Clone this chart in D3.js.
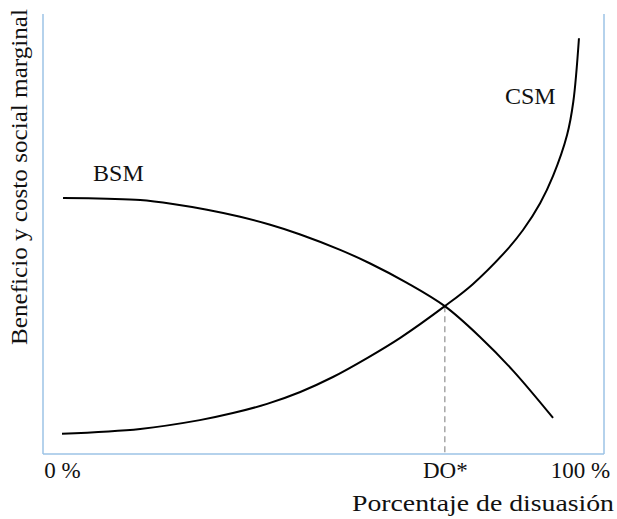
<!DOCTYPE html>
<html>
<head>
<meta charset="utf-8">
<script src="https://cdn.jsdelivr.net/npm/d3@7"></script>
<style>
  html, body { margin: 0; padding: 0; background: #fff; }
  svg { display: block; }
  svg text { font-family: "Liberation Serif", "Times New Roman", Times, Tinos, "DejaVu Serif", "Noto Serif", Georgia, serif; fill: #111; }
</style>
</head>
<body>
<svg id="chart" width="617" height="519"></svg>
<script>
// ---- data (percent of deterrence vs. value, arbitrary units 0-100) ----
const bsmX = [0.2, 8.7, 15.1, 21.4, 28.0, 34.4, 40.2, 46.0, 53.7, 59.5, 66.6, 73.9, 80.7, 87.1, 94.8];
const bsmY = [58.2, 58.0, 57.7, 56.8, 55.5, 53.9, 52.1, 49.9, 46.4, 43.3, 38.9, 33.6, 26.6, 18.9, 8.2];
const csmX = [0, 15.1, 26.6, 33.0, 39.6, 46.0, 52.3, 58.9, 65.3, 73.9, 79.3, 85.9, 89.0, 92.3, 94.8, 97.5, 98.7, 99.8];
const csmY = [4.6, 5.7, 7.7, 9.3, 11.4, 14.1, 17.5, 21.8, 26.4, 33.6, 38.6, 46.4, 50.9, 57.0, 63.2, 72.5, 80.0, 94.5];
const tickValues = [0, 73.9, 100];
const tickLabels = ["0 %", "DO*", "100 %"];
const optimumX = 73.9;
const optimumY = 33.6;
const seriesNames = ["BSM", "CSM"];
const seriesLabelX = [6.0, 85.5];
const seriesLabelY = [62.0, 79.6];
const xTitle = "Porcentaje de disuasión";
const yTitle = "Beneficio y costo social marginal";

// ---- layout ----
const W = 617, H = 519;
const plotLeft = 43, plotRight = 604, plotTop = 14, plotBottom = 454;
const axisColor = "#9dc3e6";
const serif = "'Liberation Serif', 'Times New Roman', Times, Tinos, 'DejaVu Serif', 'Noto Serif', Georgia, serif";

const svg = d3.select("#chart");

const x = d3.scaleLinear().domain([0, 100]).range([62, 580]);
const y = d3.scaleLinear().domain([0, 100]).range([plotBottom, plotTop]);

// frame: left, bottom, right lines
const frame = svg.append("g").attr("stroke", axisColor).attr("stroke-width", 1.5).attr("fill", "none");
frame.append("line").attr("x1", plotLeft).attr("x2", plotLeft).attr("y1", plotTop).attr("y2", plotBottom);
frame.append("line").attr("x1", plotLeft).attr("x2", plotRight).attr("y1", plotBottom).attr("y2", plotBottom);
frame.append("line").attr("x1", plotRight).attr("x2", plotRight).attr("y1", plotTop).attr("y2", plotBottom);

// dashed drop line from the intersection
svg.append("line")
  .attr("x1", x(optimumX)).attr("x2", x(optimumX))
  .attr("y1", y(optimumY)).attr("y2", plotBottom)
  .attr("stroke", "#a6a6a6").attr("stroke-width", 1.5)
  .attr("stroke-dasharray", "6,4");

// curves
const line = d3.line().x(d => x(d[0])).y(d => y(d[1])).curve(d3.curveCatmullRom.alpha(0.5));
const bsm = bsmX.map((v, i) => [v, bsmY[i]]);
const csm = csmX.map((v, i) => [v, csmY[i]]);
[bsm, csm].forEach(s => {
  svg.append("path").datum(s).attr("d", line)
    .attr("fill", "none").attr("stroke", "#000").attr("stroke-width", 2);
});

// series labels
seriesNames.forEach((n, i) => {
  svg.append("text").attr("x", x(seriesLabelX[i])).attr("y", y(seriesLabelY[i]))
    .style("font-family", serif).attr("font-size", 24).text(n);
});

// x axis ticks (labels only)
const xAxis = d3.axisBottom(x).tickValues(tickValues).tickSize(0)
  .tickFormat((d, i) => tickLabels[i]);
const gx = svg.append("g").attr("transform", `translate(0,${plotBottom})`).call(xAxis);
gx.attr("font-family", null);
gx.select(".domain").remove();
gx.selectAll("text").attr("font-size", 23).attr("dy", 0).attr("y", 24)
  .style("font-family", serif).attr("fill", "#111");

// titles
svg.append("text").attr("x", 614).attr("y", 511).attr("text-anchor", "end")
  .style("font-family", serif)
  .attr("font-size", 24).attr("textLength", 262).attr("lengthAdjust", "spacingAndGlyphs")
  .text(xTitle);
svg.append("text").attr("transform", "translate(27,345) rotate(-90)")
  .style("font-family", serif)
  .attr("text-anchor", "start").attr("font-size", 24)
  .attr("textLength", 336).attr("lengthAdjust", "spacingAndGlyphs")
  .text(yTitle);
</script>
</body>
</html>
